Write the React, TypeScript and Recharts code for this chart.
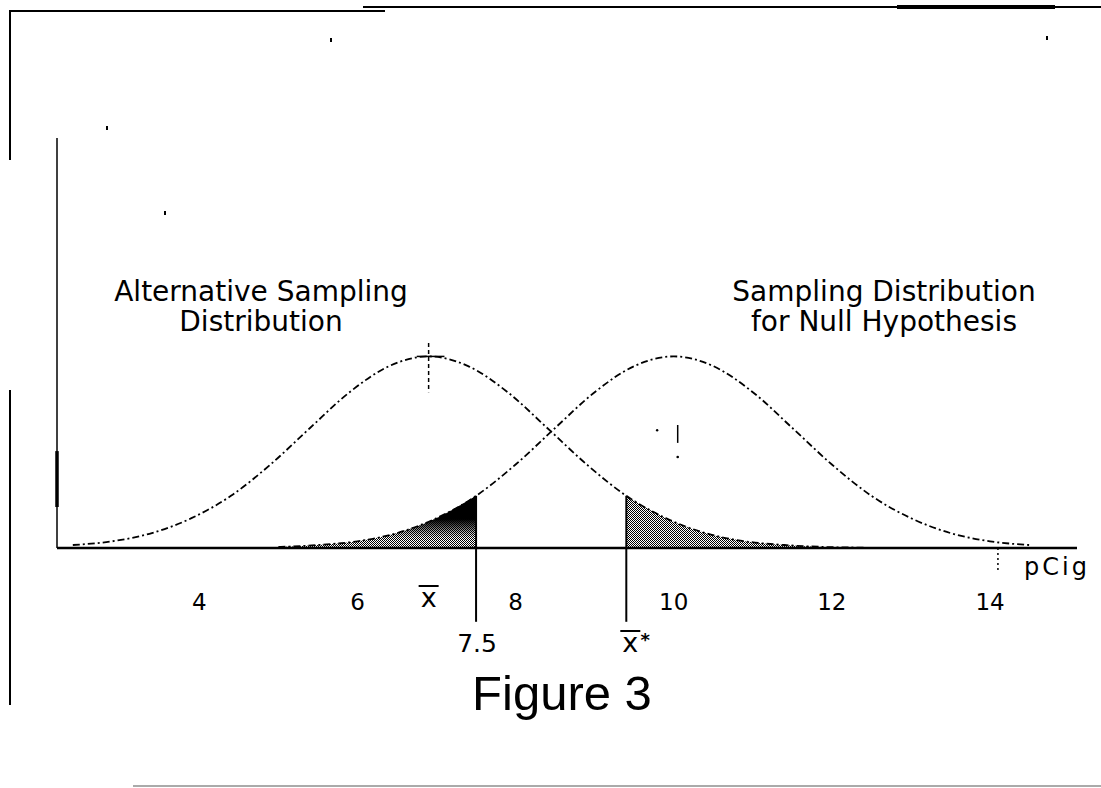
import React from "react"
import {
  ComposedChart,
  Line,
  Area,
  XAxis,
  YAxis,
  ReferenceLine,
  ReferenceDot,
  Label,
} from "recharts"

// curve heights (relative density units)
const altXs = [2.4, 2.9, 3.4, 3.9, 4.4, 4.9, 5.4, 5.9, 6.4, 6.9, 7.4, 7.9, 8.4, 8.9, 9.4, 9.9, 10.4, 10.9, 11.4, 11.9, 12.4]
const altDensity = [0.004, 0.009, 0.02, 0.04, 0.07, 0.112, 0.161, 0.209, 0.244, 0.257, 0.244, 0.209, 0.161, 0.112, 0.07, 0.04, 0.02, 0.009, 0.004, 0.0014, 0.0005]

const nullXs = [5, 5.5, 6, 6.5, 7, 7.5, 8, 8.5, 9, 9.5, 10, 10.5, 11, 11.5, 12, 12.5, 13, 13.5, 14, 14.5]
const nullDensity = [0.0014, 0.004, 0.009, 0.02, 0.04, 0.07, 0.112, 0.161, 0.209, 0.244, 0.257, 0.244, 0.209, 0.161, 0.112, 0.07, 0.04, 0.02, 0.009, 0.004]

const xTicks = [4, 6, 8, 10, 12, 14]
const xBar = 6.9
const cutoff = 7.5
const xStar = 9.4

const altData = altXs.map((x, i) => ({ x, y: altDensity[i] }))
const nullData = nullXs.map((x, i) => ({ x, y: nullDensity[i] }))
const nullTail = nullData.filter((d) => d.x <= cutoff)
const altTail = altData.filter((d) => d.x >= xStar)
const axisTicks = [...xTicks, xBar, cutoff, xStar].sort((a, b) => a - b)

const xDomain = [2.2, 15.1]
const yDomain = [0, 0.55]
const altPeak = Math.max(...altDensity)
const belowAxis = -0.099

const FONT = "'DejaVu Sans', Verdana, sans-serif"

function AxisTick({ x, y, payload }: any) {
  const v = payload.value
  if (v === xBar) {
    return (
      <g>
        <text x={x} y={y + 59} textAnchor="middle" fontSize={27} fontFamily={FONT} fill="#000">x</text>
        <line x1={x - 10} x2={x + 10} y1={y + 38} y2={y + 38} stroke="#000" strokeWidth={2} />
      </g>
    )
  }
  if (v === cutoff) {
    return (
      <text x={x + 1} y={y + 104} textAnchor="middle" fontSize={25} fontFamily={FONT} fill="#000">7.5</text>
    )
  }
  if (v === xStar) {
    return (
      <g>
        <text x={x + 4} y={y + 104} textAnchor="middle" fontSize={27} fontFamily={FONT} fill="#000">x</text>
        <line x1={x - 6} x2={x + 14} y1={y + 83} y2={y + 83} stroke="#000" strokeWidth={2} />
        <text x={x + 19} y={y + 98} textAnchor="middle" fontSize={18} fontWeight="bold" fontFamily={FONT} fill="#000">*</text>
      </g>
    )
  }
  return (
    <text x={x} y={y + 62} textAnchor="middle" fontSize={23} fontFamily={FONT} fill="#000">{v}</text>
  )
}

function UnitLabel({ viewBox }: any) {
  return (
    <text x={viewBox.x + viewBox.width + 13} y={viewBox.y + 27} textAnchor="end" fontSize={24} letterSpacing={3} fontFamily={FONT} fill="#000">
      pCig
    </text>
  )
}

const line = (style: React.CSSProperties): React.CSSProperties => ({ position: "absolute", background: "#000", ...style })

export default function App() {
  return (
    <div style={{ position: "absolute", left: 0, top: 0, width: 1101, height: 788, background: "#fff", overflow: "hidden" }}>
      {/* scanned page frame */}
      <div style={line({ left: 10, top: 10, width: 375, height: 2 })} />
      <div style={line({ left: 363, top: 6, width: 738, height: 2 })} />
      <div style={line({ left: 897, top: 5, width: 158, height: 4 })} />
      <div style={line({ left: 9, top: 10, width: 2, height: 150 })} />
      <div style={line({ left: 9, top: 390, width: 2, height: 315 })} />
      <div style={line({ left: 133, top: 785, width: 968, height: 2, background: "#aaa" })} />
      <div style={line({ left: 330, top: 38, width: 2, height: 4 })} />
      <div style={line({ left: 1046, top: 36, width: 2, height: 4 })} />
      <div style={line({ left: 106, top: 126, width: 2, height: 4 })} />
      <div style={line({ left: 164, top: 211, width: 2, height: 4 })} />

      <ComposedChart width={1101} height={788} margin={{ top: 138, right: 24, bottom: 180, left: 57 }}>
        <defs>
          <pattern id="stipple" width="2" height="2" patternUnits="userSpaceOnUse">
            <rect width="2" height="2" fill="#fff" />
            <rect x="0" y="0" width="1" height="1" fill="#000" />
            <rect x="1" y="1" width="1" height="1" fill="#000" />
          </pattern>
          <linearGradient id="darkTop" x1="0" y1="0" x2="0" y2="1">
            <stop offset="0%" stopColor="#000" stopOpacity={1} />
            <stop offset="45%" stopColor="#000" stopOpacity={1} />
            <stop offset="80%" stopColor="#000" stopOpacity={0} />
          </linearGradient>
        </defs>
        <XAxis
          type="number"
          dataKey="x"
          domain={xDomain}
          ticks={axisTicks}
          interval={0}
          tick={<AxisTick />}
          tickLine={false}
          tickSize={0}
          tickMargin={0}
          height={60}
          axisLine={{ stroke: "#000", strokeWidth: 2.5 }}
          label={<Label content={<UnitLabel />} />}
        />
        <YAxis type="number" domain={yDomain} hide />
        <ReferenceLine segment={[{ x: xDomain[0], y: 0 }, { x: xDomain[0], y: yDomain[1] }]} stroke="#000" strokeWidth={1.5} />
        <ReferenceLine segment={[{ x: xDomain[0], y: 0.055 }, { x: xDomain[0], y: 0.13 }]} stroke="#000" strokeWidth={3.5} />

        <Area data={nullTail} dataKey="y" type="monotone" stroke="none" fill="url(#stipple)" fillOpacity={1} isAnimationActive={false} />
        <Area data={nullTail} dataKey="y" type="monotone" stroke="none" fill="url(#darkTop)" fillOpacity={1} isAnimationActive={false} />
        <Area data={altTail} dataKey="y" type="monotone" stroke="none" fill="url(#stipple)" fillOpacity={1} isAnimationActive={false} />
        <Line data={altData} dataKey="y" type="monotone" stroke="#000" strokeWidth={1.8} strokeDasharray="7 3 2 3" dot={false} isAnimationActive={false} />
        <Line data={nullData} dataKey="y" type="monotone" stroke="#000" strokeWidth={1.8} strokeDasharray="7 3 2 3" dot={false} isAnimationActive={false} />

        <ReferenceLine
          segment={[{ x: cutoff, y: nullDensity[nullXs.indexOf(cutoff)] }, { x: cutoff, y: belowAxis }]}
          stroke="#000"
          strokeWidth={2}
          ifOverflow="visible"
        />
        <ReferenceLine
          segment={[{ x: xStar, y: altDensity[altXs.indexOf(xStar)] }, { x: xStar, y: belowAxis }]}
          stroke="#000"
          strokeWidth={2}
          ifOverflow="visible"
        />
        {/* peak marker on the alternative curve */}
        <ReferenceLine segment={[{ x: xBar, y: altPeak + 0.018 }, { x: xBar, y: altPeak - 0.048 }]} stroke="#000" strokeWidth={1.5} strokeDasharray="4 3" />
        <ReferenceLine segment={[{ x: xBar - 0.15, y: altPeak }, { x: xBar + 0.2, y: altPeak }]} stroke="#000" strokeWidth={1.5} />
        {/* small marks near the null mean */}
        <ReferenceLine segment={[{ x: 10.05, y: 0.165 }, { x: 10.05, y: 0.141 }]} stroke="#000" strokeWidth={1.5} />
        <ReferenceDot x={10.05} y={0.122} r={1.3} fill="#000" stroke="none" />
        <ReferenceDot x={9.79} y={0.158} r={1.2} fill="#000" stroke="none" />
        <ReferenceLine segment={[{ x: 14.1, y: 0 }, { x: 14.1, y: -0.03 }]} stroke="#000" strokeWidth={1.5} strokeDasharray="2 3" ifOverflow="visible" />
      </ComposedChart>

      <div style={{ position: "absolute", left: 61, top: 277, width: 400, textAlign: "center", fontFamily: FONT, fontSize: 28, lineHeight: "30px", color: "#000" }}>
        Alternative Sampling
        <br />
        Distribution
      </div>
      <div style={{ position: "absolute", left: 684, top: 277, width: 400, textAlign: "center", fontFamily: FONT, fontSize: 28, lineHeight: "30px", color: "#000" }}>
        Sampling Distribution
        <br />
        for Null Hypothesis
      </div>
      <div style={{ position: "absolute", left: 362, top: 665, width: 400, textAlign: "center", fontFamily: "'Liberation Sans', Arial, sans-serif", fontSize: 49, lineHeight: "56px", color: "#000" }}>
        Figure 3
      </div>
    </div>
  )
}
